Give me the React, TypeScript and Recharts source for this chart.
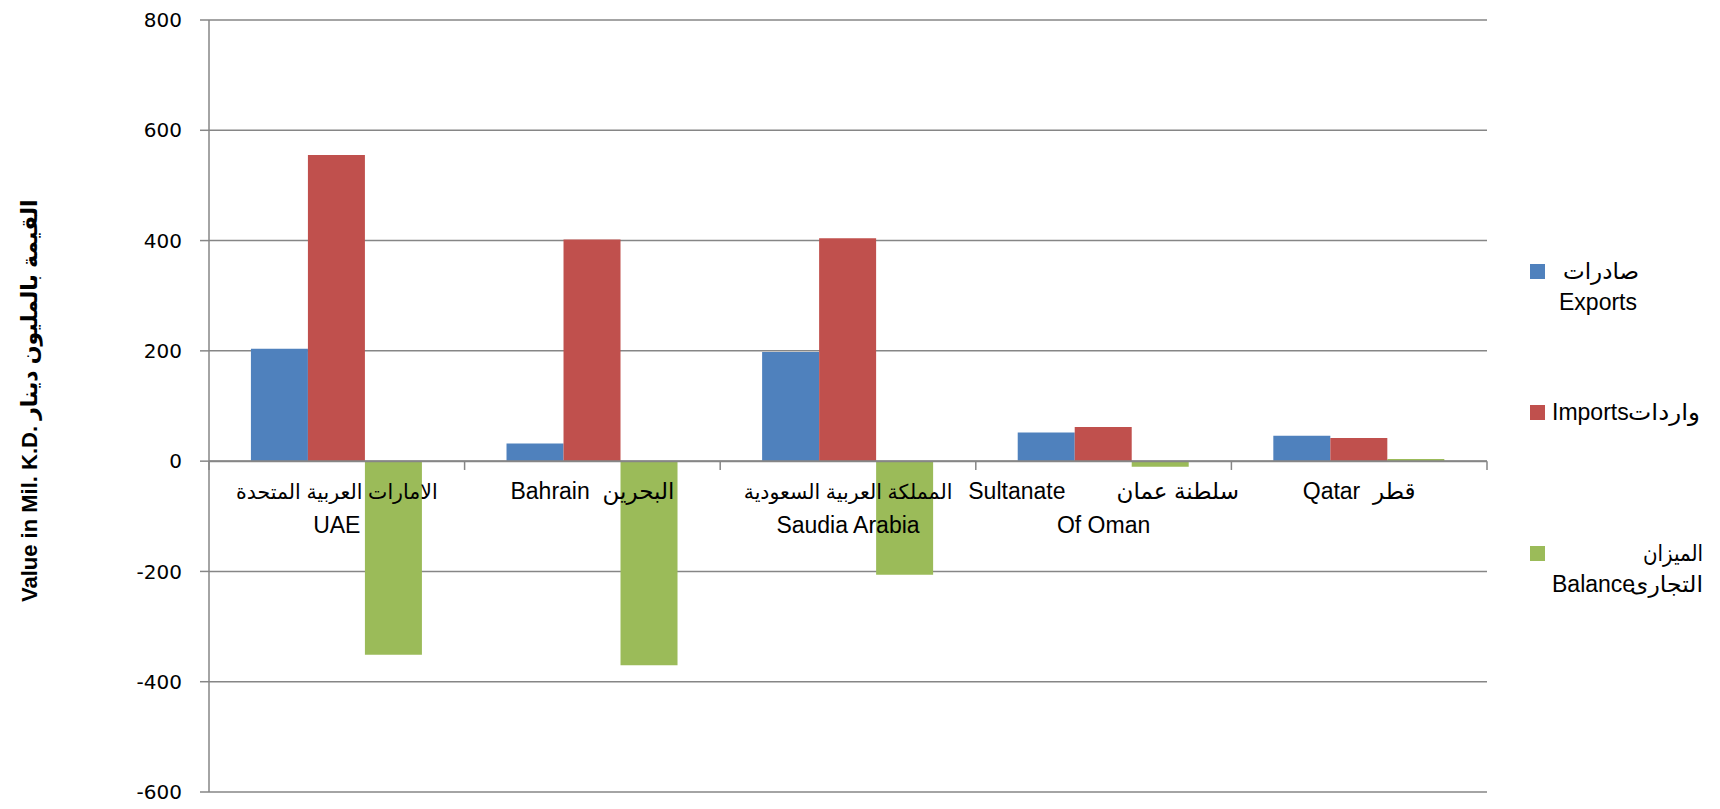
import React from 'react';
import { BarChart, Bar, XAxis, YAxis, CartesianGrid, ReferenceLine, ReferenceDot, Legend } from 'recharts';

const categories = ['UAE', 'Bahrain', 'Saudi', 'Oman', 'Qatar'];
const categoryLabels: string[][] = [
  ['الامارات العربية المتحدة', 'UAE'],
  ['Bahrain  البحرين'],
  ['المملكة العربية السعودية', 'Saudia Arabia'],
  ['Sultanate        سلطنة عمان', 'Of Oman'],
  ['Qatar  قطر'],
];
const exportsValues = [204, 32, 198, 52, 46];
const importsValues = [555, 402, 404, 62, 42];
const balanceValues = [-351, -370, -206, -10, 4];
const yTicks = [-600, -400, -200, 0, 200, 400, 600, 800];

const COLORS = { exports: '#4F81BD', imports: '#C0504D', balance: '#9BBB59' };
const GRID = '#868686';
const LABEL_FONT = '"Liberation Sans", Arial, "DejaVu Sans", sans-serif';
const TICK_FONT = '"DejaVu Sans", Verdana, sans-serif';

const data = categories.map((c, i) => ({
  name: c,
  exports: exportsValues[i],
  imports: importsValues[i],
  balance: balanceValues[i],
}));

const hasLatin = (s: string) => /[A-Za-z]/.test(s);

const makeCatLabel = (lines: string[]) => (props: any) => {
  const { cx, cy } = props;
  return (
    <text
      textAnchor="middle"
      fontFamily={LABEL_FONT}
      fontSize={23}
      fill="#000"
      style={{ whiteSpace: 'pre' }}
    >
      {lines.map((l, i) => (
        <tspan
          key={i}
          x={cx}
          y={cy + 38 + i * 34}
          fontSize={hasLatin(l) ? 23 : 20.5}
          style={{ whiteSpace: 'pre' }}
        >
          {l}
        </tspan>
      ))}
    </text>
  );
};

const YLabel = () => (
  <text
    x={37}
    y={602}
    transform="rotate(-90, 37, 602)"
    textAnchor="start"
    fontFamily={LABEL_FONT}
    fontWeight="bold"
    fontSize={22}
    fill="#000"
  >
    Value in Mil. K.D. القيمة بالمليون دينار
  </text>
);

const LegendContent = () => (
  <svg width={195} height={360} style={{ overflow: 'visible' }}>
    <g fontFamily={LABEL_FONT} fontSize={23} fill="#000">
      <rect x={5} y={14} width={15} height={15} fill={COLORS.exports} />
      <text x={38} y={29} textLength={76} lengthAdjust="spacingAndGlyphs">صادرات</text>
      <text x={34} y={60}>Exports</text>

      <rect x={5} y={155} width={15} height={15} fill={COLORS.imports} />
      <text x={27} y={170}>Imports</text>
      <text x={103} y={170} textLength={72} lengthAdjust="spacingAndGlyphs">واردات</text>

      <rect x={5} y={296} width={15} height={15} fill={COLORS.balance} />
      <text x={118} y={311} textLength={60} lengthAdjust="spacingAndGlyphs">الميزان</text>
      <text x={27} y={342}>Balance</text>
      <text x={105} y={342} textLength={73} lengthAdjust="spacingAndGlyphs">التجارى</text>
    </g>
  </svg>
);

export default function App() {
  return (
    <div style={{ position: 'absolute', left: 0, top: 0, background: '#fff' }}>
      <BarChart
        width={1720}
        height={809}
        data={data}
        margin={{ top: 20, right: 233, bottom: 17, left: 0 }}
        barCategoryGap="16.4%"
        barGap={0}
      >
        <CartesianGrid vertical={false} stroke={GRID} strokeWidth={1.5} />
        <XAxis dataKey="name" hide />
        <YAxis
          width={209}
          domain={[-600, 800]}
          ticks={yTicks}
          interval={0}
          axisLine={{ stroke: GRID, strokeWidth: 1.5 }}
          tickLine={{ stroke: GRID, strokeWidth: 1.5 }}
          tickSize={9}
          tickMargin={18}
          tick={{ fontFamily: TICK_FONT, fontSize: 20, fill: '#000' }}
          label={YLabel}
        />
        <Bar dataKey="exports" fill={COLORS.exports} isAnimationActive={false} />
        <Bar dataKey="imports" fill={COLORS.imports} isAnimationActive={false} />
        <Bar dataKey="balance" fill={COLORS.balance} isAnimationActive={false} />
        <ReferenceLine y={0} stroke={GRID} strokeWidth={2} />
        {categories.map((c) => (
          <ReferenceLine
            key={'t' + c}
            segment={[{ x: c, y: 0 }, { x: c, y: -16 }]}
            position="start"
            stroke={GRID}
            strokeWidth={1.5}
          />
        ))}
        <ReferenceLine
          segment={[{ x: categories[categories.length - 1], y: 0 }, { x: categories[categories.length - 1], y: -16 }]}
          position="end"
          stroke={GRID}
          strokeWidth={1.5}
        />
        {categories.map((c, i) => (
          <ReferenceDot
            key={'l' + c}
            x={c}
            y={0}
            r={0}
            shape={makeCatLabel(categoryLabels[i])}
          />
        ))}
        <Legend
          layout="vertical"
          align="center"
          verticalAlign="middle"
          wrapperStyle={{ left: 1525, top: 250, width: 195 }}
          content={LegendContent}
        />
      </BarChart>
    </div>
  );
}
